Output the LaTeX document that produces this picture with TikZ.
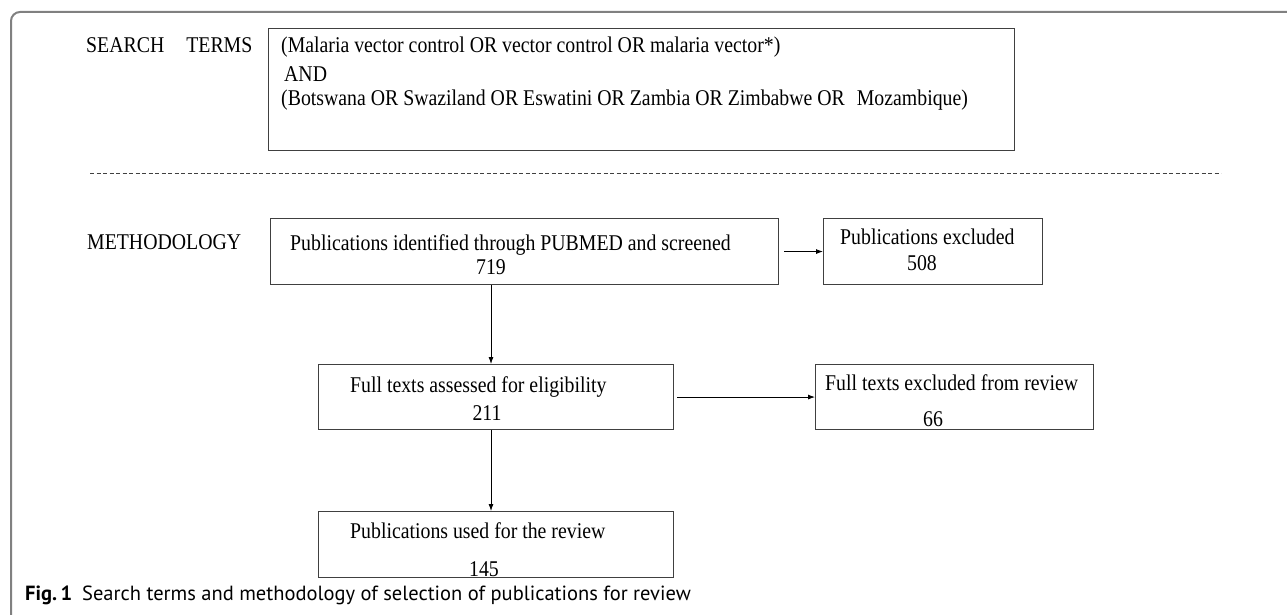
\documentclass[tikz,border=0pt]{standalone}
\usepackage{fontspec}
\setmainfont{Liberation Serif}[FakeStretch=0.88]
\newfontfamily\capfont{PT Sans}
\usetikzlibrary{arrows.meta}
\definecolor{boxline}{HTML}{404040}
\definecolor{framegray}{HTML}{808080}
\tikzset{
  box/.style={draw=boxline, line width=1.1pt, anchor=north west, inner sep=0pt},
  txt/.style={inner sep=0pt, font=\fontsize{22.5}{26}\selectfont},
  txtl/.style={txt, anchor=base west},
  txtc/.style={txt, anchor=base},
  arr/.style={draw=black, line width=0.8pt, -{Latex[length=7pt,width=5pt]}},
  frame/.style={draw=framegray, line width=2pt, rounded corners=9pt},
  sep/.style={draw=boxline, line width=0.8pt, dash pattern=on 4pt off 2.5pt}
}
\begin{document}
\begin{tikzpicture}[x=1pt,y=-1pt]
\useasboundingbox (0,0) rectangle (1287,615);
% outer frame
\draw[frame] (11,616) -- (11,12) -- (1288,12);
% search terms
\node[txtl] (st) at (86,53) {SEARCH\hspace{22pt}TERMS};
\node[box, minimum width=746pt, minimum height=122pt] (bs) at (268,28) {};
\node[txtl] (s1) at (281,53) {(Malaria vector control OR vector control OR malaria vector*)};
\node[txtl] (s2) at (284,82) {AND};
\node[txtl] (s3) at (281,106) {(Botswana OR Swaziland OR Eswatini OR Zambia OR Zimbabwe OR\hspace{12pt}Mozambique)};
% separator
\coordinate (d1) at (90,173);
\coordinate (d2) at (1221,173);
\draw[sep] (d1) -- (d2);
% methodology
\node[txtl] (meth) at (87,249) {METHODOLOGY};
\node[box, minimum width=508pt, minimum height=66pt] (b1) at (270,218) {};
\node[txtl] (t1a) at (290,250) {Publications identified through PUBMED and screened};
\node[txtc] (t1b) at (491,274) {719};
\node[box, minimum width=219pt, minimum height=66pt] (b2) at (823,218) {};
\node[txtl] (t2a) at (840,244) {Publications excluded};
\node[txtc] (t2b) at (922,270) {508};
\node[box, minimum width=355pt, minimum height=65pt] (b3) at (318,364) {};
\node[txtl] (t3a) at (350,392) {Full texts assessed for eligibility};
\node[txtc] (t3b) at (487,420) {211};
\node[box, minimum width=278pt, minimum height=65pt] (b4) at (815,364) {};
\node[txtl] (t4a) at (825,390) {Full texts excluded from review};
\node[txtc] (t4b) at (933,426) {66};
\node[box, minimum width=355pt, minimum height=66pt] (b5) at (318,511) {};
\node[txtl] (t5a) at (350,538) {Publications used for the review};
\node[txtc] (t5b) at (484,576) {145};
% arrows
\coordinate (ax) at (491,0);
\draw[arr] (b1.south -| ax) -- (b3.north -| ax);
\draw[arr] (b3.south -| ax) -- (b5.north -| ax);
\draw[arr, shorten <=5pt] (b1.east) -- (b2.west);
\draw[arr, shorten <=3pt] (b3.east) -- (b4.west);
% caption
\node[anchor=base west, inner sep=0pt, font=\capfont\fontsize{20.5}{24}\selectfont] (cap) at (25,600) {\textbf{Fig.\,1}\hspace{10pt}Search terms and methodology of selection of publications for review};
\end{tikzpicture}
\end{document}
